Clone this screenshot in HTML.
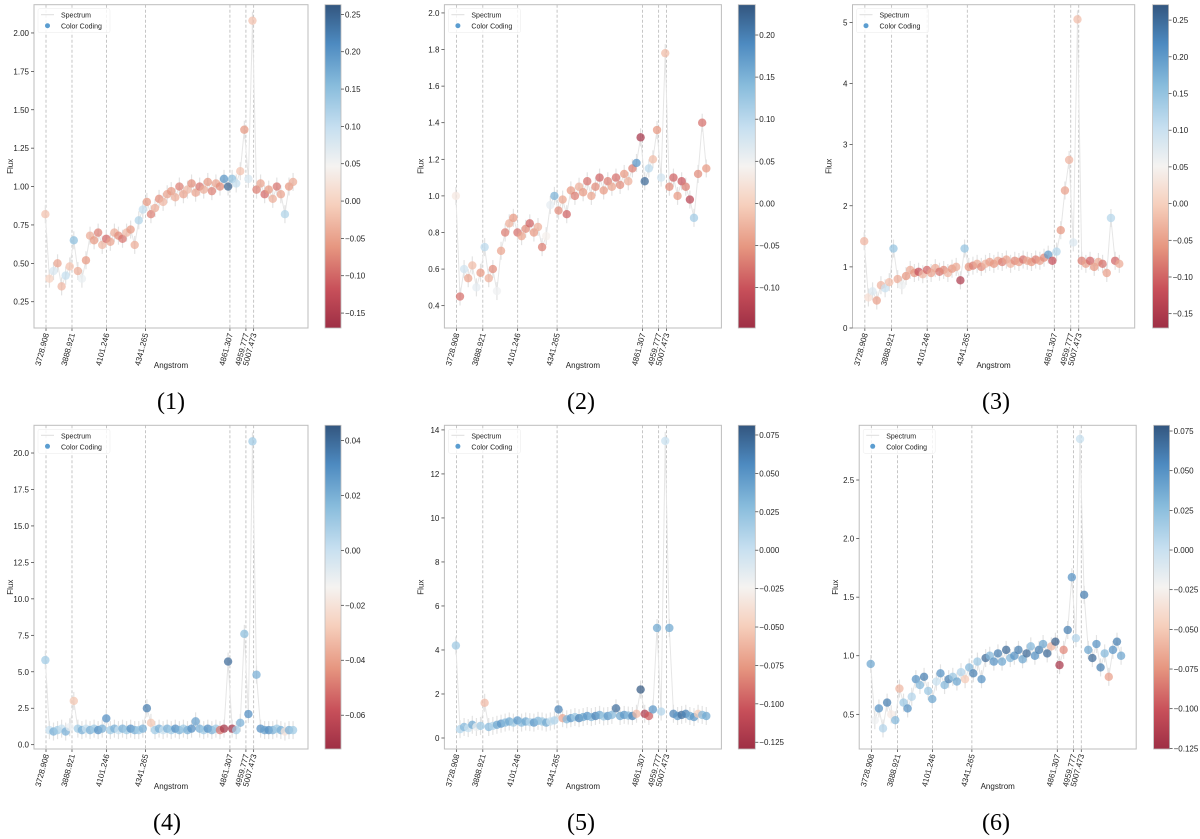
<!DOCTYPE html>
<html><head><meta charset="utf-8"><style>
html,body{margin:0;padding:0;background:#fff;}
svg{display:block;font-family:"Liberation Sans",sans-serif;}
</style></head><body>
<svg id="fig" width="1200" height="839" viewBox="0 0 1200 839" xmlns="http://www.w3.org/2000/svg">
<defs>
<linearGradient id="cmap" x1="0" y1="1" x2="0" y2="0">
<stop offset="0" stop-color="#9e2f45"/><stop offset="0.12" stop-color="#c8505a"/>
<stop offset="0.25" stop-color="#e69680"/><stop offset="0.38" stop-color="#f6cfbc"/>
<stop offset="0.5" stop-color="#f5f3f1"/><stop offset="0.62" stop-color="#c6dff0"/>
<stop offset="0.75" stop-color="#88bcdc"/><stop offset="0.88" stop-color="#4d8ac0"/>
<stop offset="1" stop-color="#33567f"/>
</linearGradient>
</defs>
</svg>
<script>
// shared wavelength grid (Angstrom)
const wave = [3725,3750,3775,3800,3825,3850,3875,3900,3925,3950,3975,4000,4025,4050,4075,4100,4125,4150,4175,4200,4225,4250,4275,4300,4325,4350,4375,4400,4425,4450,4475,4500,4525,4550,4575,4600,4625,4650,4675,4700,4725,4750,4775,4800,4825,4850,4875,4900,4925,4950,4975,5000,5025,5050,5075,5100,5125,5150,5175,5200,5225,5250];
const lineWaves = [3728.908,3888.921,4101.246,4341.265,4861.307,4959.777,5007.473];
const lineLabels = ["3728.908","3888.921","4101.246","4341.265","4861.307","4959.777","5007.473"];

const flux1 = [.82,.40,.45,.50,.35,.42,.48,.65,.45,.40,.52, .68,.65,.70,.62,.66,.64,.70,.68,.66,.70,.72,.62, .78,.85,.90,.82,.86,.92,.90,.95, .97,.93,1.0,.95,.98,1.02,.96,1.0,.98,1.03,.97,1.02,1.0,1.05, 1.0,1.05,1.02,1.1,1.37,1.05,2.08, .98,1.02,.95,.98,.92,1.0,.95,.82,1.0,1.03];
const color1 = [-.02,0,.08,-.05,-.03,.1,-.02,.15,-.04,.06,-.06, -.04,-.06,-.08,-.03,-.1,-.05,-.04,-.07,-.09,-.03,-.06,-.04, .12,.1,-.06,-.08,-.04,-.07,-.03,-.05, -.06,-.04,-.08,-.05,-.03,-.07,-.05,-.09,-.04,-.06,-.08,-.05,-.07,.2, .25,.15,.1,-.02,-.06,.08,-.02, -.08,-.05,-.1,-.06,-.04,-.09,-.05,.12,-.06,-.04];

const flux2 = [1.0,.45,.6,.55,.62,.5,.58,.72,.55,.6,.48, .7,.8,.85,.88,.8,.78,.82,.85,.8,.83,.72,.78, .95,1.0,.92,.98,.9,1.03,1.0,1.05, 1.02,1.08,1.0,1.05,1.1,1.03,1.08,1.05,1.1,1.06,1.12,1.08,1.15,1.18, 1.32,1.08,1.15,1.2,1.36,1.1,1.78, 1.05,1.1,1.0,1.08,1.05,.98,.88,1.12,1.4,1.15];
const color2 = [.03,-.08,.08,-.04,-.02,.06,-.05,.1,-.03,-.06,.05, -.04,-.07,-.03,-.05,-.08,-.04,-.06,-.09,-.05,-.03,-.07,.04, .06,.15,-.06,-.04,-.09,-.05,-.07,-.03, -.05,-.08,-.04,-.06,-.09,-.05,-.07,-.04,-.08,-.06,-.05,-.03,-.07,.18, -.14,.22,.1,-.02,-.05,.08,-.02, -.06,-.09,-.05,-.1,-.07,-.12,.12,-.06,-.08,-.05];

const flux3 = [1.42,.5,.6,.45,.7,.65,.75,1.3,.8,.7,.85, .95,.9,.92,.88,.95,.9,.98,.92,.95,.9,.97,1.0, .78,1.3,1.0,1.02,1.05,1.0,1.05,1.08, 1.05,1.1,1.08,1.12,1.05,1.1,1.08,1.12,1.1,1.08,1.12,1.1,1.15,1.2, 1.1,1.25,1.6,2.25,2.75,1.4,5.05, 1.1,1.05,1.1,1.0,1.08,1.05,.9,1.8,1.1,1.05];
const color3 = [-.03,.02,.08,-.05,-.03,.1,-.02,.15,-.04,.06,-.06, -.04,-.06,-.12,-.03,-.1,-.05,-.04,-.09,-.07,-.03,-.06,-.04, -.15,.15,-.06,-.08,-.04,-.07,-.03,-.05, -.06,-.04,-.08,-.05,-.03,-.07,-.05,-.09,-.04,-.06,-.08,-.05,-.07,.2, -.12,.12,-.06,-.05,-.03,.08,-.02, -.08,-.05,-.1,-.06,-.04,-.09,-.05,.12,-.1,-.04];

const flux4 = [5.8,1.0,.9,1.0,1.1,.9,1.2,3.0,1.1,1.0,1.1, 1.0,1.1,1.0,1.1,1.8,1.0,1.1,1.0,1.1,1.0,1.1,1.0, 1.0,1.1,2.5,1.5,1.0,1.1,1.0,1.1, 1.0,1.1,1.0,1.1,1.0,1.1,1.6,1.1,1.0,1.1,1.0,1.1,1.0,1.1, 5.7,1.1,1.0,1.5,7.6,2.1,20.8, 4.8,1.1,1.0,1.0,1.0,1.1,1.0,.9,1.0,1.0];
const color4 = [.01,.0,.02,.01,.0,.02,-.01,-.03,.01,.02,.0, .02,.01,.03,.02,.03,.01,.02,.0,.02,.01,.03,.02, .01,.02,.035,-.03,.01,.02,.0,.02, .01,.03,.02,.01,.02,.03,.025,.02,.01,.03,.02,.01,-.05,-.07, .04,-.07,.01,.02,.015,.03,.01, .02,.03,.025,.03,.02,.01,.02,-.02,.02,.01];

const flux5 = [4.2,.4,.5,.45,.6,.5,.55,1.6,.5,.55,.6, .65,.7,.75,.7,.8,.7,.75,.72,.7,.78,.75,.7, .75,.8,1.3,.9,.85,.9,.95,.9, .95,1.0,.95,1.0,1.05,.98,1.0,1.05,1.35,1.0,1.05,1.02,1.0,1.1, 2.2,1.1,1.0,1.3,5.0,1.2,13.5, 5.0,1.1,1.0,1.05,1.1,1.0,.95,1.1,1.05,1.0];
const color5 = [.02,.01,.03,.0,.04,-.02,.02,-.06,.03,.01,.04, .05,.03,.04,.02,.05,.03,.04,.01,.05,.03,.02,.04, .0,.01,.06,-.07,.03,.05,.02,.06, .04,.05,.03,.06,.04,.02,.05,.03,.07,.04,.05,.03,.06,-.06, .08,-.12,-.1,.05,.04,.01,.0, .04,.06,.05,.07,.06,.04,.05,-.05,.03,.04];

const flux6 = [.93,.45,.55,.38,.6,.5,.45,.72,.6,.55,.65, .8,.75,.82,.7,.63,.78,.85,.75,.8,.82,.78,.86, .8,.9,.85,.95,.8,.98,1.0,.95, 1.02,.95,1.05,.98,1.0,1.05,.97,1.02,1.08,1.0,1.05,1.1,1.02,1.08, 1.12,.92,1.05,1.22,1.67,1.15,2.85, 1.52,1.05,.98,1.1,.9,1.02,.82,1.05,1.12,1.0];
const color6 = [.04,-.02,.05,.01,.06,-.03,.03,-.06,.02,.05,.01, .05,.03,.06,.02,.04,.0,.05,.03,.06,.02,.04,.01, -.05,.03,.06,.02,.05,.07,.03,.05, .06,.04,.07,.03,.05,.06,.04,.07,.03,.05,.06,.04,.07,-.06, .075,-.12,-.08,.06,.05,.01,.0, .06,.04,.07,.05,.06,.03,-.07,.05,.06,.04];

const yTicks1 = [0.25,0.5,0.75,1.0,1.25,1.5,1.75,2.0], yLab1 = ["0.25","0.50","0.75","1.00","1.25","1.50","1.75","2.00"];
const yTicks2 = [0.4,0.6,0.8,1.0,1.2,1.4,1.6,1.8,2.0], yLab2 = ["0.4","0.6","0.8","1.0","1.2","1.4","1.6","1.8","2.0"];
const yTicks3 = [0,1,2,3,4,5], yLab3 = ["0","1","2","3","4","5"];
const yTicks4 = [0,2.5,5,7.5,10,12.5,15,17.5,20], yLab4 = ["0.0","2.5","5.0","7.5","10.0","12.5","15.0","17.5","20.0"];
const yTicks5 = [0,2,4,6,8,10,12,14], yLab5 = ["0","2","4","6","8","10","12","14"];
const yTicks6 = [0.5,1.0,1.5,2.0,2.5], yLab6 = ["0.5","1.0","1.5","2.0","2.5"];
const cTicks1 = [-0.15,-0.1,-0.05,0,0.05,0.1,0.15,0.2,0.25], cLab1 = ["\u22120.15","\u22120.10","\u22120.05","0.00","0.05","0.10","0.15","0.20","0.25"];
const cTicks2 = [-0.1,-0.05,0,0.05,0.1,0.15,0.2], cLab2 = ["\u22120.10","\u22120.05","0.00","0.05","0.10","0.15","0.20"];
const cTicks3 = cTicks1, cLab3 = cLab1;
const cTicks4 = [-0.06,-0.04,-0.02,0,0.02,0.04], cLab4 = ["\u22120.06","\u22120.04","\u22120.02","0.00","0.02","0.04"];
const cTicks5 = [-0.125,-0.1,-0.075,-0.05,-0.025,0,0.025,0.05,0.075], cLab5 = ["\u22120.125","\u22120.100","\u22120.075","\u22120.050","\u22120.025","0.000","0.025","0.050","0.075"];
const cTicks6 = cTicks5, cLab6 = cLab5;
const captions = ["(1)","(2)","(3)","(4)","(5)","(6)"];

// layout (not data)
const layout = [
 {fx:34,fw:274,fy:4.7,fh:323.3,cx:325,cw:16,y0:0.079,y1:2.184,c0:-0.17,c1:0.263,capx:171,capy:401},
 {fx:444.4,fw:277,fy:4.7,fh:323.3,cx:738.3,cw:17,y0:0.278,y1:2.045,c0:-0.148,c1:0.236,capx:581,capy:401},
 {fx:852.5,fw:282.2,fy:4.7,fh:323.3,cx:1152.6,cw:16,y0:0,y1:5.29,c0:-0.1695,c1:0.271,capx:996,capy:401},
 {fx:34,fw:274,fy:425.3,fh:323.7,cx:325,cw:16,y0:-0.295,y1:21.9,c0:-0.0723,c1:0.0455,capx:167,capy:822},
 {fx:444.4,fw:277,fy:425.3,fh:323.7,cx:738.3,cw:17,y0:-0.5,y1:14.21,c0:-0.1294,c1:0.0813,capx:581,capy:822},
 {fx:859.2,fw:277,fy:425.3,fh:323.7,cx:1153.6,cw:16,y0:0.204,y1:2.967,c0:-0.1254,c1:0.0786,capx:996,capy:822}
];
const X0 = 3655, X1 = 5342;
const fluxes=[flux1,flux2,flux3,flux4,flux5,flux6];
const colors=[color1,color2,color3,color4,color5,color6];
const yT=[yTicks1,yTicks2,yTicks3,yTicks4,yTicks5,yTicks6], yL=[yLab1,yLab2,yLab3,yLab4,yLab5,yLab6];
const cT=[cTicks1,cTicks2,cTicks3,cTicks4,cTicks5,cTicks6], cL=[cLab1,cLab2,cLab3,cLab4,cLab5,cLab6];

const stops=[[0,[158,47,69]],[0.12,[200,80,90]],[0.25,[230,150,128]],[0.38,[246,207,188]],[0.5,[245,243,241]],[0.62,[198,223,240]],[0.75,[136,188,220]],[0.88,[77,138,192]],[1,[51,86,127]]];
function cmap(t){t=Math.max(0,Math.min(1,t));for(let i=1;i<stops.length;i++){if(t<=stops[i][0]){const a=stops[i-1],b=stops[i];const u=(t-a[0])/(b[0]-a[0]);const c=a[1].map((v,k)=>Math.round(v+(b[1][k]-v)*u));return `rgb(${c[0]},${c[1]},${c[2]})`;}}return 'rgb(51,86,127)';}

const svg=document.getElementById('fig');
const NS='http://www.w3.org/2000/svg';
function mk(tag,attrs,parent,txt){const e=document.createElementNS(NS,tag);for(const k in attrs)e.setAttribute(k,attrs[k]);if(txt!==undefined)e.textContent=txt;(parent||svg).appendChild(e);return e;}

layout.forEach((L,p)=>{
  const g=mk('g',{});
  
  
  const xs=v=>L.fx+(v-X0)/(X1-X0)*L.fw;
  const ys=v=>L.fy+L.fh-(v-L.y0)/(L.y1-L.y0)*L.fh;
  const cs=v=>L.fy+L.fh-(v-L.c0)/(L.c1-L.c0)*L.fh;
  lineWaves.forEach((w,i)=>{
    const l=mk('line',{x1:xs(w),x2:xs(w),y1:L.fy,y2:L.fy+L.fh,stroke:'#b8b8b8','stroke-width':0.8,'stroke-dasharray':'3,2'},g);
    
    
    mk('line',{x1:xs(w),x2:xs(w),y1:L.fy+L.fh,y2:L.fy+L.fh+3,stroke:'#333','stroke-width':0.7},g);
    const t=mk('text',{x:0,y:0,'font-size':8,'text-anchor':'end',fill:'#222',transform:`translate(${xs(w)+3},${L.fy+L.fh+6}) rotate(-75)`},g,lineLabels[i]);
    
    
  });
  const fl=fluxes[p], co=colors[p];
  const pts=wave.map((w,i)=>xs(w).toFixed(1)+','+ys(fl[i]).toFixed(1)).join(' ');
  const pl=mk('polyline',{points:pts,fill:'none',stroke:'#e6e6e6','stroke-width':1},g);
  
  
  wave.forEach((w,i)=>{
    const e=mk('line',{x1:xs(w),x2:xs(w),y1:ys(fl[i])-9,y2:ys(fl[i])+9,stroke:'#e3e3e3','stroke-width':1.2},g);
    
    
  });
  wave.forEach((w,i)=>{
    const c=mk('circle',{cx:xs(w),cy:ys(fl[i]),r:4.2,fill:cmap((co[i]-L.c0)/(L.c1-L.c0)),'fill-opacity':0.72},g);
    
    
  });
  const fr=mk('rect',{x:L.fx,y:L.fy,width:L.fw,height:L.fh,fill:'none',stroke:'#bdbdbd','stroke-width':1},g);
  
  
  yT[p].forEach((v,i)=>{
    mk('line',{x1:L.fx-3,x2:L.fx,y1:ys(v),y2:ys(v),stroke:'#333','stroke-width':0.7},g);
    const t=mk('text',{x:L.fx-5,y:ys(v)+3,'font-size':8,'text-anchor':'end',fill:'#222'},g,yL[p][i]);
    
    
  });
  const yl=mk('text',{x:0,y:0,'font-size':8,'text-anchor':'middle',fill:'#222',transform:`translate(${L.fx-21},${L.fy+L.fh/2}) rotate(-90)`},g,'Flux');
  
  
  const xl=mk('text',{x:L.fx+L.fw/2,y:L.fy+L.fh+40,'font-size':8,'text-anchor':'middle',fill:'#222'},g,'Angstrom');
  
  
  const lg=mk('g',{},g);
  
  
  mk('rect',{x:L.fx+4,y:L.fy+4,width:72,height:24,fill:'#fff','fill-opacity':0.8,stroke:'#eee','stroke-width':0.6,rx:2},lg);
  mk('line',{x1:L.fx+7,x2:L.fx+20,y1:L.fy+10,y2:L.fy+10,stroke:'#ddd','stroke-width':1},lg);
  const t1=mk('text',{x:L.fx+27,y:L.fy+13,'font-size':7,fill:'#222'},lg,'Spectrum');
  
  
  mk('circle',{cx:L.fx+13.5,cy:L.fy+21,r:2.5,fill:'#5b9dd0'},lg);
  const t2=mk('text',{x:L.fx+27,y:L.fy+24,'font-size':7,fill:'#222'},lg,'Color Coding');
  
  
  const cb=mk('rect',{x:L.cx,y:L.fy,width:L.cw,height:L.fh,fill:'url(#cmap)',stroke:'#bdbdbd','stroke-width':0.8},g);
  
  
  cT[p].forEach((v,i)=>{
    mk('line',{x1:L.cx+L.cw,x2:L.cx+L.cw+3,y1:cs(v),y2:cs(v),stroke:'#333','stroke-width':0.7},g);
    const t=mk('text',{x:L.cx+L.cw+4,y:cs(v)+3,'font-size':8,fill:'#222'},g,cL[p][i]);
    
    
  });
  const cap=mk('text',{x:L.capx,y:L.capy+8,'font-size':24,'text-anchor':'middle',fill:'#000','font-family':'"Liberation Serif",serif'},g,captions[p]);
  
  
});
</script>
</body></html>
